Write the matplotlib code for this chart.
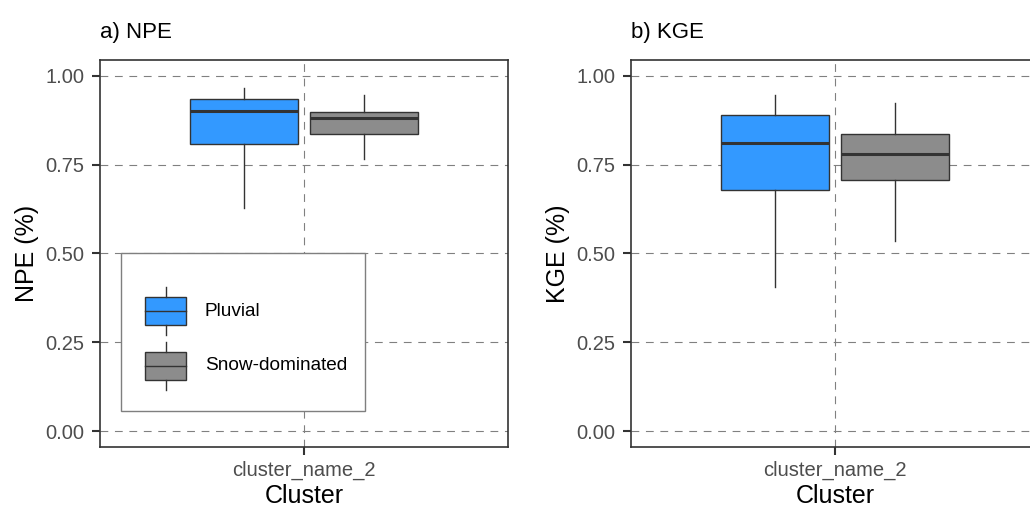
import matplotlib
matplotlib.use("Agg")
import matplotlib.pyplot as plt
from matplotlib.patches import Rectangle
from matplotlib.lines import Line2D

plt.rcParams['font.family'] = ['Liberation Sans', 'DejaVu Sans']

# ---- data (five-number summaries) ----
groups = ["Pluvial", "Snow-dominated"]
colors = ["#3399FF", "#8C8C8C"]
cluster = "cluster_name_2"
# [whisker_low, q1, median, q3, whisker_high]
npe_pluvial = [0.629, 0.808, 0.902, 0.935, 0.967]
npe_snow = [0.765, 0.836, 0.882, 0.899, 0.946]
kge_pluvial = [0.405, 0.680, 0.811, 0.889, 0.946]
kge_snow = [0.536, 0.707, 0.781, 0.837, 0.923]
titles = ["a) NPE", "b) KGE"]
ylabels = ["NPE (%)", "KGE (%)"]
yticks = [0.00, 0.25, 0.50, 0.75, 1.00]

W, H = 1030, 511
fig = plt.figure(figsize=(W / 100, H / 100), dpi=100)

def fpos(x0, y0, x1, y1):
    return [x0 / W, 1 - y1 / H, (x1 - x0) / W, (y1 - y0) / H]

axes = [fig.add_axes(fpos(100, 60, 508, 447)), fig.add_axes(fpos(631, 60, 1039, 447))]
series = [[npe_pluvial, npe_snow], [kge_pluvial, kge_snow]]

offset = 0.176
bwidth = 0.318
edge = "#333333"

for k, ax in enumerate(axes):
    stats = []
    for s in series[k]:
        stats.append(dict(whislo=s[0], q1=s[1], med=s[2], q3=s[3], whishi=s[4], fliers=[]))
    bp = ax.bxp(stats, positions=[-offset, offset], widths=bwidth, patch_artist=True,
                showcaps=False, showfliers=False, zorder=3,
                boxprops=dict(edgecolor=edge, linewidth=1.0),
                whiskerprops=dict(color=edge, linewidth=1.0),
                medianprops=dict(color=edge, linewidth=2.2))
    for patch, c in zip(bp['boxes'], colors):
        patch.set_facecolor(c)
    ax.set_xlim(-0.6, 0.6)
    ax.set_ylim(-0.045, 1.045)
    ax.set_yticks(yticks)
    ax.set_yticklabels([f"{v:.2f}" for v in yticks])
    ax.set_xticks([0])
    ax.set_xticklabels([cluster])
    ax.grid(True, linestyle=(0, (7, 6)), color="#808080", linewidth=0.8, zorder=0)
    ax.set_axisbelow(True)
    for sp in ax.spines.values():
        sp.set_color("#333333")
        sp.set_linewidth(1.2)
    ax.tick_params(axis='both', direction='out', length=6, width=1.5, color="#333333",
                   labelcolor="#4D4D4D", labelsize=14.5)
    ax.tick_params(axis='x', pad=4)
    ax.tick_params(axis='y', pad=5)
    ax.set_ylabel(ylabels[k], fontsize=18, color="black", labelpad=5)
    ax.set_xlabel("Cluster", fontsize=18, color="black", labelpad=3)
    ax.set_title(titles[k], loc='left', fontsize=16, color="black", pad=16, x=0.0)

# ---- legend drawn in panel a ----
ax = axes[0]
def ax_xy(px, py):
    return ((px - 100) / 408, 1 - (py - 60) / 387)

x0, y0 = ax_xy(121, 411)
x1, y1 = ax_xy(365, 253)
ax.add_patch(Rectangle((x0, y0), x1 - x0, y1 - y0, transform=ax.transAxes,
                       facecolor="white", edgecolor="#7F7F7F", linewidth=1.0, zorder=5))
for i, (g, c) in enumerate(zip(groups, colors)):
    cy = 311 + i * 55
    bx0, by0 = ax_xy(145, cy + 14)
    bx1, by1 = ax_xy(186, cy - 14)
    ax.add_patch(Rectangle((bx0, by0), bx1 - bx0, by1 - by0, transform=ax.transAxes,
                           facecolor=c, edgecolor=edge, linewidth=1.0, zorder=6))
    mx, my = ax_xy(165.5, cy)
    _, wt = ax_xy(0, cy - 24)
    _, wb = ax_xy(0, cy + 24)
    ax.add_line(Line2D([mx, mx], [by1, wt], transform=ax.transAxes, color=edge, lw=1.0, zorder=6))
    ax.add_line(Line2D([mx, mx], [by0, wb], transform=ax.transAxes, color=edge, lw=1.0, zorder=6))
    ax.add_line(Line2D([bx0, bx1], [my, my], transform=ax.transAxes, color=edge, lw=1.0, zorder=7))
    tx, ty = ax_xy(205, cy)
    ax.text(tx, ty, g, transform=ax.transAxes, fontsize=13.7, va='center', ha='left',
            color="black", zorder=7)

fig.savefig("out.png", dpi=100)
